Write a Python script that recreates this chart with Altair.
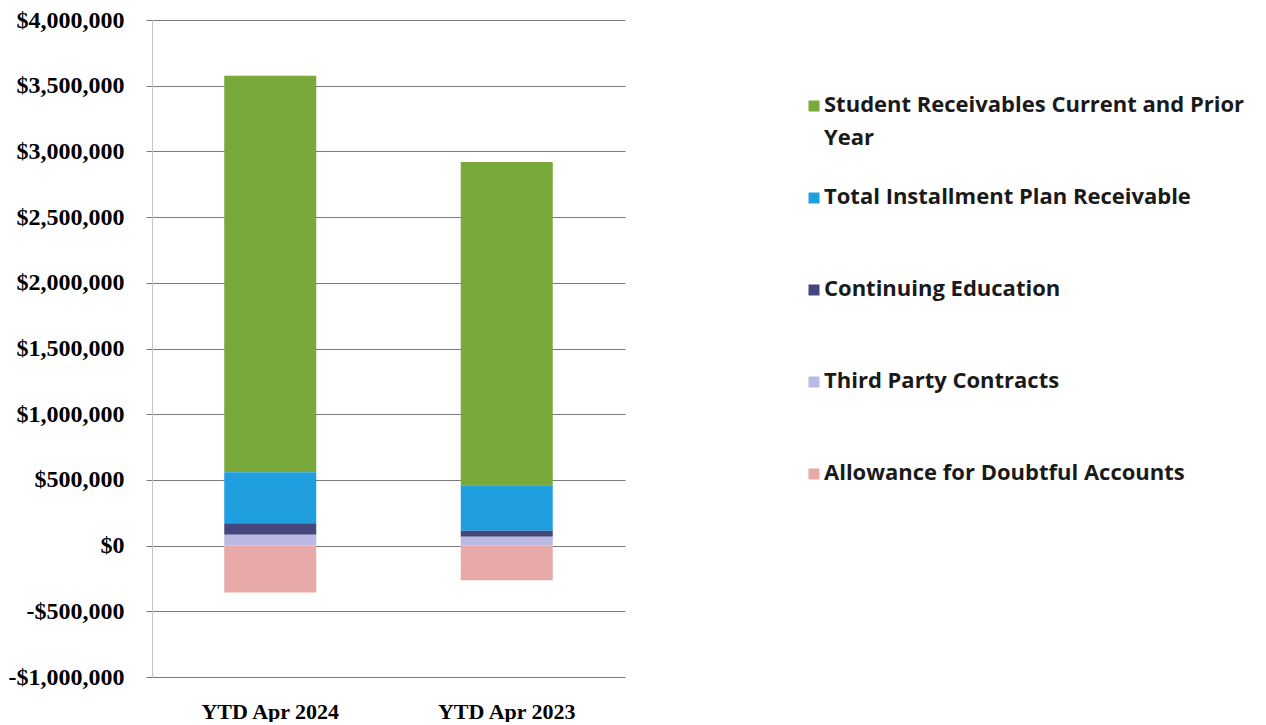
import altair as alt
import pandas as pd

periods = ["YTD Apr 2024", "YTD Apr 2023"]
series = [
    "Student Receivables Current and Prior Year",
    "Total Installment Plan Receivable",
    "Continuing Education",
    "Third Party Contracts",
    "Allowance for Doubtful Accounts",
]
legend_labels = [
    "Student Receivables Current and Prior\nYear",
    "Total Installment Plan Receivable",
    "Continuing Education",
    "Third Party Contracts",
    "Allowance for Doubtful Accounts",
]
colors = ["#79a83b", "#1f9fe0", "#46467f", "#b9b9e3", "#e8a9a9"]

student = [3017000, 2459000]
installment = [387000, 347000]
continuing = [88000, 45000]
third_party = [83000, 68000]
allowance = [-357000, -264000]

tick_values = list(range(-1000000, 4000001, 500000))

rows = []
for i, p in enumerate(periods):
    vals = [student[i], installment[i], continuing[i], third_party[i], allowance[i]]
    stack_order = [3, 2, 1, 0, 4]
    for s, v, o in zip(series, vals, stack_order):
        rows.append({"period": p, "series": s, "value": v, "stack_order": o})
df = pd.DataFrame(rows)

color_scale = alt.Scale(domain=series, range=colors)

H = 657

bars = alt.Chart(df).mark_bar(size=92).encode(
    x=alt.X(
        "period:N",
        sort=periods,
        scale=alt.Scale(paddingInner=0, paddingOuter=0),
        axis=alt.Axis(
            title=None, labelAngle=0, domain=False, ticks=False, grid=False,
            labelFont="Liberation Serif", labelFontWeight="bold", labelFontSize=22,
            labelColor="black", labelPadding=24,
        ),
    ),
    y=alt.Y(
        "value:Q",
        stack="zero",
        scale=alt.Scale(domain=[-1000000, 4000000], nice=False),
        axis=alt.Axis(
            title=None, values=tick_values,
            labelExpr="datum.value < 0 ? '-$' + format(-datum.value, ',') : '$' + format(datum.value, ',')",
            labelFont="Liberation Serif", labelFontWeight="bold", labelFontSize=24,
            labelColor="black", labelPadding=22,
            gridColor="#7a7a7a", gridWidth=1, tickColor="#7a7a7a", tickSize=6,
            domainColor="#c4c4c4",
        ),
    ),
    color=alt.Color("series:N", scale=color_scale, legend=None),
    order=alt.Order("stack_order:Q"),
).properties(width=473, height=H)

leg_df = pd.DataFrame({"series": series, "label": legend_labels, "idx": list(range(len(series)))})
leg_y = alt.Y("idx:Q", scale=alt.Scale(domain=[-86 / 92, (H - 86) / 92], reverse=True), axis=None)

leg_sq = alt.Chart(leg_df).mark_square(size=121, opacity=1).encode(
    x=alt.value(189),
    y=leg_y,
    color=alt.Color("series:N", scale=color_scale, legend=None),
)
leg_txt = alt.Chart(leg_df).mark_text(
    align="left", baseline="top", dy=-11, lineBreak="\n", lineHeight=33,
    font="Open Sans", fontWeight="bold", fontSize=22, color="#1a1a1a",
).encode(
    x=alt.value(199),
    y=leg_y,
    text="label:N",
)
legend = alt.layer(leg_sq, leg_txt).properties(width=620, height=H)

chart = alt.hconcat(bars, legend, spacing=0).properties(
    padding={"left": 0, "top": 0, "right": 0, "bottom": 0},
    background="white",
).configure_view(strokeWidth=0)

chart.save("out.html", embed_options={"renderer": "svg", "actions": False})
